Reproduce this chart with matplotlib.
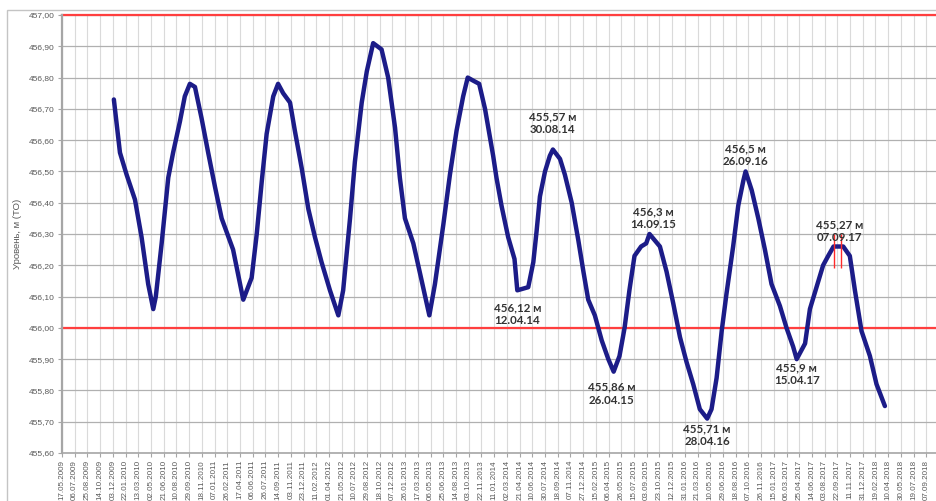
import datetime as dt
import matplotlib
matplotlib.use("Agg")
import matplotlib.pyplot as plt
import matplotlib.dates as mdates
from matplotlib.ticker import FuncFormatter
from matplotlib.patches import Rectangle


# water level readings
level_dates = [
    "07.12.2009", "31.12.2009", "26.01.2010", "28.02.2010", "26.03.2010", "21.04.2010",
    "11.05.2010", "21.05.2010", "13.06.2010", "09.07.2010", "28.07.2010", "24.08.2010",
    "12.09.2010", "02.10.2010", "22.10.2010", "17.11.2010", "13.12.2010", "09.01.2011",
    "04.02.2011", "21.03.2011", "30.04.2011", "02.06.2011", "22.06.2011", "12.07.2011",
    "31.07.2011", "26.08.2011", "14.09.2011", "04.10.2011", "31.10.2011", "19.11.2011",
    "16.12.2011", "11.01.2012", "06.02.2012", "03.03.2012", "05.04.2012", "08.05.2012",
    "27.05.2012", "23.06.2012", "12.07.2012", "08.08.2012", "28.08.2012", "22.09.2012",
    "25.10.2012", "20.11.2012", "17.12.2012", "05.01.2013", "25.01.2013", "27.02.2013",
    "01.04.2013", "01.05.2013", "23.05.2013", "25.06.2013", "21.07.2013", "16.08.2013",
    "11.09.2013", "29.09.2013", "21.10.2013", "13.11.2013", "06.12.2013", "07.01.2014",
    "20.01.2014", "09.02.2014", "07.03.2014", "01.04.2014", "12.04.2014", "25.05.2014",
    "14.06.2014", "27.06.2014", "10.07.2014", "30.07.2014", "18.08.2014", "30.08.2014",
    "27.09.2014", "16.10.2014", "12.11.2014", "08.12.2014", "28.12.2014", "16.01.2015",
    "11.02.2015", "10.03.2015", "05.04.2015", "26.04.2015", "19.05.2015", "08.06.2015",
    "27.06.2015", "17.07.2015", "12.08.2015", "01.09.2015", "14.09.2015", "25.10.2015",
    "20.11.2015", "16.12.2015", "12.01.2016", "07.02.2016", "04.03.2016", "30.03.2016",
    "28.04.2016", "15.05.2016", "04.06.2016", "24.06.2016", "13.07.2016", "08.08.2016",
    "28.08.2016", "17.09.2016", "26.09.2016", "20.10.2016", "15.11.2016", "11.12.2016",
    "06.01.2017", "08.02.2017", "06.03.2017", "01.04.2017", "15.04.2017", "18.05.2017",
    "06.06.2017", "02.07.2017", "28.07.2017", "17.08.2017", "07.09.2017", "15.10.2017",
    "10.11.2017", "30.11.2017", "26.12.2017", "28.01.2018", "23.02.2018", "28.03.2018",
]
levels = [
    456.73, 456.56, 456.49, 456.41, 456.29, 456.14,
    456.06, 456.10, 456.27, 456.48, 456.56, 456.66,
    456.74, 456.78, 456.77, 456.67, 456.56, 456.45,
    456.35, 456.25, 456.09, 456.16, 456.30, 456.47,
    456.62, 456.74, 456.78, 456.75, 456.72, 456.63,
    456.51, 456.38, 456.29, 456.21, 456.12, 456.04,
    456.12, 456.35, 456.53, 456.72, 456.82, 456.91,
    456.89, 456.80, 456.64, 456.48, 456.35, 456.27,
    456.15, 456.04, 456.14, 456.33, 456.49, 456.63,
    456.74, 456.80, 456.79, 456.78, 456.70, 456.55,
    456.48, 456.39, 456.29, 456.22, 456.12, 456.13,
    456.21, 456.31, 456.42, 456.50, 456.55, 456.57,
    456.54, 456.49, 456.40, 456.28, 456.18, 456.09,
    456.04, 455.96, 455.90, 455.86, 455.91, 456.00,
    456.12, 456.23, 456.26, 456.27, 456.30, 456.26,
    456.18, 456.08, 455.97, 455.89, 455.82, 455.74,
    455.71, 455.74, 455.84, 455.99, 456.11, 456.26,
    456.39, 456.47, 456.50, 456.44, 456.35, 456.25,
    456.14, 456.07, 456.00, 455.94, 455.90, 455.95,
    456.06, 456.13, 456.20, 456.23, 456.26, 456.26,
    456.23, 456.12, 455.99, 455.91, 455.82, 455.75,
]

# labelled extremes
ann_dates = ["30.08.2014", "12.04.2014", "14.09.2015", "26.04.2015",
             "28.04.2016", "26.09.2016", "15.04.2017", "07.09.2017"]
ann_levels = [456.57, 456.12, 456.30, 455.86, 455.71, 456.50, 455.90, 456.26]
ann_texts = ["455,57 м\n30.08.14", "456,12 м\n12.04.14", "456,3 м\n14.09.15",
             "455,86 м\n26.04.15", "455,71 м\n28.04.16", "456,5 м\n26.09.16",
             "455,9 м\n15.04.17", "455,27 м\n07.09.17"]
# offsets of the labels in pixels (dx, dy up)
ann_offsets = [(0, 26), (0, -24), (4, 16), (-2, -22), (0, -17), (0, 16), (0, -15), (6, 15)]

# red marks around the 2017 peak
mark_dates = ["09.09.2017", "05.10.2017"]
mark_low, mark_high = 456.19, 456.30

# limits of the regulated level
red_levels = [457.00, 456.00]

first_tick = "17.05.2009"
tick_step_days = 50
n_ticks = 69


def to_date(s):
    return dt.datetime.strptime(s, "%d.%m.%Y")


x = [to_date(d) for d in level_dates]
start = to_date(first_tick)
ticks = [start + dt.timedelta(days=tick_step_days * i) for i in range(n_ticks)]

W, H = 936, 501
fig = plt.figure(figsize=(W / 100, H / 100), dpi=100)
ax = fig.add_axes([62 / W, 48 / H, (W - 62) / W, 438 / H])

# outer frame of the excel chart
fig.patches.append(Rectangle((7 / W, -0.05), 1.2, 1.05 - 10 / H, transform=fig.transFigure,
                             fill=False, edgecolor="#c4c4c4", lw=1.0))

ax.set_ylim(455.60, 457.00)
ax.set_xlim(start, start + dt.timedelta(days=3438))
ax.set_yticks([455.6 + 0.1 * i for i in range(15)])
ax.yaxis.set_major_formatter(FuncFormatter(lambda v, p: f"{v:.2f}".replace(".", ",")))
ax.set_xticks(ticks)
ax.xaxis.set_major_formatter(mdates.DateFormatter("%d.%m.%Y"))

for lab in ax.get_xticklabels():
    lab.set_rotation(90)
    lab.set_fontfamily("Liberation Sans")
    lab.set_fontsize(5.8)
    lab.set_color("#595959")
for lab in ax.get_yticklabels():
    lab.set_fontfamily("Liberation Sans")
    lab.set_fontsize(6.0)
    lab.set_color("#595959")

ax.tick_params(axis="both", length=3, color="#a6a6a6", pad=2)
ax.grid(axis="y", color="#b0b0b0", lw=0.9)
ax.grid(axis="x", color="#dadada", lw=0.8)
ax.set_axisbelow(True)

for side in ["top", "right"]:
    ax.spines[side].set_visible(False)
ax.spines["left"].set_color("#a6a6a6")
ax.spines["left"].set_linewidth(1.6)
ax.spines["bottom"].set_color("#a6a6a6")
ax.spines["bottom"].set_linewidth(1.2)

ax.set_ylabel("Уровень, м (ТО)", fontsize=6.8, color="#595959",
              fontfamily="Liberation Sans", labelpad=5)

for r in red_levels:
    ax.axhline(r, color="#ff3f3f", lw=1.6, zorder=2, clip_on=False)

ax.plot(x, levels, color="#1c1c88", lw=3.2, solid_capstyle="round",
        solid_joinstyle="round", zorder=3)

ax.vlines([to_date(d) for d in mark_dates], mark_low, mark_high, color="#ff2a2a", lw=1.0, zorder=4)

for d, v, t, (dx, dy) in zip(ann_dates, ann_levels, ann_texts, ann_offsets):
    ax.annotate(t, xy=(to_date(d), v), xytext=(dx * 0.72, dy * 0.72), textcoords="offset points",
                ha="center", va="center", fontsize=8.3, fontweight="bold", color="#333333",
                family=["Lato", "Noto Sans", "DejaVu Sans"], zorder=5)

fig.savefig("out.png", dpi=100)
